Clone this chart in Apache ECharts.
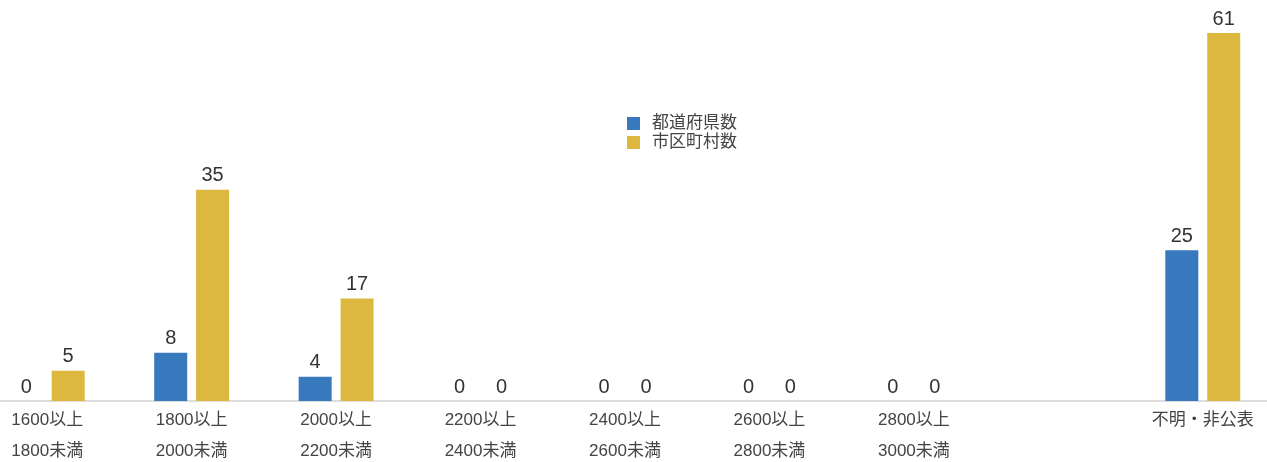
<!DOCTYPE html>
<html>
<head>
<meta charset="utf-8">
<script src="https://cdn.jsdelivr.net/npm/echarts@6/dist/echarts.min.js"></script>
<style>html,body{margin:0;padding:0;background:#fff;overflow:hidden}#c{position:absolute;left:-25px;top:0;width:1300px;height:462px}</style>
</head>
<body>
<div id="c"></div>
<script>
const categories = ['1600以上\n1800未満', '1800以上\n2000未満', '2000以上\n2200未満', '2200以上\n2400未満', '2400以上\n2600未満', '2600以上\n2800未満', '2800以上\n3000未満', '', '不明・非公表'];
const prefectures = [0, 8, 4, 0, 0, 0, 0, null, 25];
const municipalities = [5, 35, 17, 0, 0, 0, 0, null, 61];
const seriesNames = ['都道府県数', '市区町村数'];

const font = '"Liberation Sans", "Noto Sans CJK JP", sans-serif';
const chart = echarts.init(document.getElementById('c'));
chart.setOption({
  animation: false,
  textStyle: { fontFamily: font },
  legend: {
    orient: 'vertical', left: 647, top: 110,
    itemWidth: 13, itemHeight: 13, itemGap: 2,
    icon: 'rect',
    textStyle: { fontSize: 17, color: '#444', fontFamily: font, padding: [0, 0, 0, 7] }
  },
  grid: { left: 0, right: 0, top: 33, bottom: 61, containLabel: false, outerBoundsMode: 'none' },
  xAxis: {
    type: 'category', data: categories,
    axisLine: { lineStyle: { color: '#ddd', width: 2 } },
    axisTick: { show: false },
    axisLabel: { fontSize: 17, color: '#444', lineHeight: 31, margin: 4, interval: 0, fontFamily: font }
  },
  yAxis: { type: 'value', min: 0, max: 61, show: false, splitLine: { show: false } },
  series: [
    {
      name: seriesNames[0], type: 'bar', data: prefectures, barWidth: 33, barGap: '27%',
      itemStyle: { color: '#3878bc' },
      label: { show: true, position: 'top', fontSize: 20, color: '#333', distance: 4, fontFamily: font }
    },
    {
      name: seriesNames[1], type: 'bar', data: municipalities, barWidth: 33,
      itemStyle: { color: '#dcb93e' },
      label: { show: true, position: 'top', fontSize: 20, color: '#333', distance: 4, fontFamily: font }
    }
  ]
});
</script>
</body>
</html>
